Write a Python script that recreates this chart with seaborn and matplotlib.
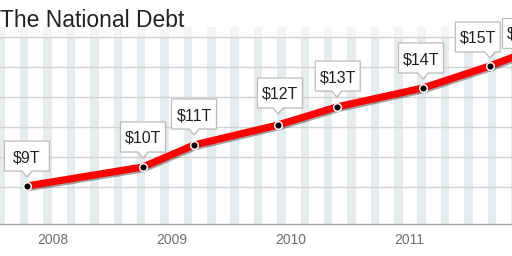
import numpy as np
import pandas as pd
import matplotlib
matplotlib.use("Agg")
import matplotlib.pyplot as plt
import matplotlib.transforms as mtransforms
import matplotlib.patheffects as pe
from matplotlib.patches import Polygon, Rectangle
import seaborn as sns

# ---- data ----
dates = [2007.78, 2008.758, 2009.188, 2009.895, 2010.39, 2011.117, 2011.68, 2012.10]
debt_trillions = [9.05, 10.0, 11.1, 12.1, 13.0, 13.95, 15.05, 16.0]
labels = ["$9T", "$10T", "$11T", "$12T", "$13T", "$14T", "$15T", "$16T"]
year_ticks = [2008, 2009, 2010, 2011]
title = "The National Debt"

# label box placement (pixels relative to point): dx, bottom gap
box_dx = [0, 0, 0, 2, 1, -2, -12, -15]
box_gap = [15, 15, 16, 17, 16, 15, 14, -1]

df = pd.DataFrame({"date": dates, "debt": debt_trillions})

sns.set_style("white")
plt.rcParams["font.family"] = ["Liberation Sans", "DejaVu Sans"]

W, H = 512, 256
fig = plt.figure(figsize=(W / 100, H / 100), dpi=100)
ax_top, ax_bot = 37, 224
ax = fig.add_axes([0, (H - ax_bot) / H, 1, (ax_bot - ax_top) / H])

xmin = 2008 - 53 / 118.7
xmax = 2008 + (W - 53) / 118.7
ymin, ymax = 7.15, 16.5
ax.set_xlim(xmin, xmax)
ax.set_ylim(ymin, ymax)

# stripes
period = 23.38 / 118.7
swidth = 8.5 / 118.7
start = 2008 + (20 - 53) / 118.7
k0 = int(np.floor((xmin - start) / period)) - 1
trans_b = mtransforms.blended_transform_factory(ax.transData, ax.transAxes)
for k in range(k0, k0 + 30):
    s = start + k * period
    ax.add_patch(Rectangle((s, 0), swidth, 1, transform=trans_b,
                           facecolor="#e5ecf0", edgecolor="none", zorder=0))
    ax.add_patch(Rectangle((s, 1), swidth, 10 / (ax_bot - ax_top), transform=trans_b,
                           facecolor="#f2f5f7", edgecolor="none", zorder=0,
                           clip_on=False))

# horizontal grid
for gy in [9, 10.5, 12, 13.5, 15, 16.5]:
    ax.axhline(gy, color="#d2d2d2", lw=1, zorder=1, clip_on=False)

for sp in ["top", "right", "left"]:
    ax.spines[sp].set_visible(False)
ax.spines["bottom"].set_color("#a8a8a8")
ax.spines["bottom"].set_linewidth(1)
ax.set_yticks([])
ax.set_xticks(year_ticks)
ax.set_xticklabels([str(y) for y in year_ticks])
ax.tick_params(axis="x", direction="in", length=11.5, width=0.8, color="#9a9a9a",
               labelsize=10, labelcolor="#707070", pad=6.5)

# line
sns.lineplot(data=df, x="date", y="debt", ax=ax, color="#ff0000", lw=5.2,
             zorder=3, solid_capstyle="round",
             path_effects=[pe.SimpleLineShadow(offset=(0.8, -1.2), shadow_color="black", alpha=0.35),
                           pe.Normal()])
sns.scatterplot(data=df, x="date", y="debt", ax=ax, color="black", s=30,
                edgecolor="white", linewidth=1.1, zorder=4)
ax.set_xlabel("")
ax.set_ylabel("")

# callout labels
w, h = 45, 30
for x, y, lab, dx, gap in zip(dates, debt_trillions, labels, box_dx, box_gap):
    tr = mtransforms.IdentityTransform() + mtransforms.ScaledTranslation(x, y, ax.transData)
    b = gap
    t = gap + h
    L, R = dx - w / 2, dx + w / 2
    if gap > 8:
        verts = [(L, b), (-5, b), (0, b - 6), (5, b), (R, b), (R, t), (L, t)]
    else:
        verts = [(L, b), (R, b), (R, t), (L, t)]
    shadow = Polygon([(vx + 1, vy - 1) for vx, vy in verts], closed=True, transform=tr,
                     facecolor="#000000", alpha=0.08, edgecolor="none", zorder=5, clip_on=False)
    ax.add_patch(shadow)
    poly = Polygon(verts, closed=True, transform=tr, facecolor="white",
                   edgecolor="#bdbdbd", lw=0.9, zorder=6, clip_on=False)
    ax.add_patch(poly)
    ax.text(dx, (b + t) / 2, lab, transform=tr, ha="center", va="center_baseline",
            fontsize=11.5, color="#222222", zorder=7, clip_on=False)

fig.text(-0.5 / W, 1 - 27 / H, title, fontsize=16.5, color="#222222",
         ha="left", va="baseline")

fig.savefig("out.png", dpi=100)
